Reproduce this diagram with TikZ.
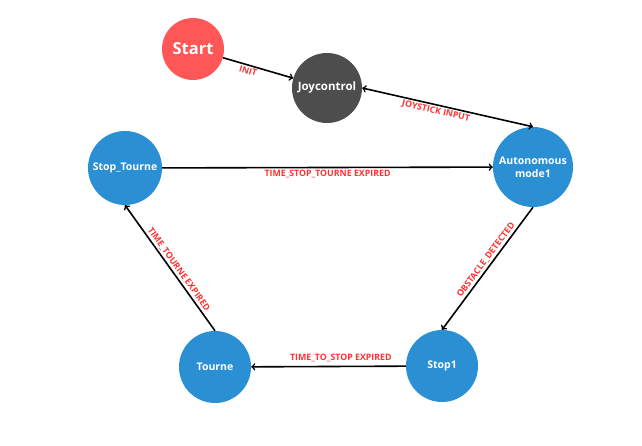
\documentclass[tikz,border=0pt]{standalone}
\usepackage{fontspec}
\setmainfont{Open Sans}
\usepackage{tikz}
\usetikzlibrary{arrows, positioning, calc}

\definecolor{startred}{HTML}{FF5757}
\definecolor{joygray}{HTML}{4D4D4D}
\definecolor{stateblue}{HTML}{2B8FD4}
\definecolor{labelred}{HTML}{FF3131}

\begin{document}
\begin{tikzpicture}[x=1pt, y=-1pt,
		state/.style={circle, fill=stateblue, text=white, inner sep=0pt, font=\bfseries\fontsize{10.5}{13}\selectfont, align=center},
		trans/.style={->, line width=1.6pt, black},
		tlabel/.style={text=labelred, font=\bfseries\fontsize{8.8}{10}\selectfont, inner sep=1.5pt, sloped}]
				
				\useasboundingbox (0,0) rectangle (642,446);
				
				\node[circle,fill=startred,text=white,inner sep=0pt,minimum size=62pt,font=\bfseries\fontsize{16.5}{18}\selectfont] (start) at (193,49) {Start};
				\node[circle,fill=joygray,text=white,inner sep=0pt,minimum size=70pt,font=\bfseries\fontsize{11.5}{13}\selectfont] (joy) at (327,88) {Joycontrol};
				\node[state,minimum size=80pt] (auto) at (533,167) {Autonomous\\mode1};
				\node[state,minimum size=74pt] (stopt) at (125,168) {Stop\_Tourne};
				\node[state,minimum size=72pt] (tourne) at (215,367) {Tourne};
				\node[state,minimum size=72pt] (stop1) at (442,366) {Stop1};
				
				\draw[trans] (start) -- (joy) node[tlabel, pos=.38, below] {INIT};
				\draw[trans, <->] (joy.east) -- (auto.north) node[tlabel, pos=.44, below] {JOYSTICK INPUT};
				\draw[trans] (stopt) -- (auto) node[tlabel, midway, below] {TIME\_STOP\_TOURNE EXPIRED};
				\draw[trans] (auto.south) -- (stop1.north) node[tlabel, pos=.46, above] {OBSTACLE\_DETECTED};
				\draw[trans] (stop1) -- (tourne) node[tlabel, pos=.42, above=2pt] {TIME\_TO\_STOP EXPIRED};
				\draw[trans] (tourne.north) -- (stopt.south) node[tlabel, pos=.46, above] {TIME\_TOURNE EXPIRED};
			\end{tikzpicture}
\end{document}
